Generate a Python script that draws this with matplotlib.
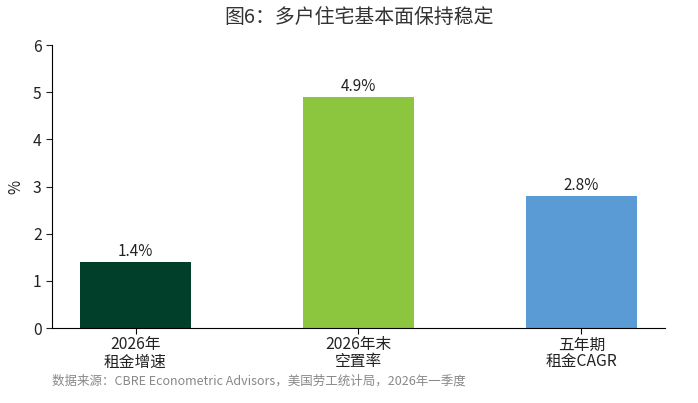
import matplotlib
matplotlib.use("Agg")
import matplotlib.pyplot as plt

plt.rcParams['font.family'] = ['Noto Sans CJK SC', 'DejaVu Sans']

categories = ["2026年\n租金增速", "2026年末\n空置率", "五年期\n租金CAGR"]
values = [1.4, 4.9, 2.8]
labels = ["1.4%", "4.9%", "2.8%"]
colors = ["#013F2B", "#8CC63F", "#5B9BD5"]
yticks = [0, 1, 2, 3, 4, 5, 6]

fig = plt.figure(figsize=(6.98, 4.03), dpi=100)
ax = fig.add_axes([0.0745, 0.186, 0.878, 0.702])

x = list(range(len(categories)))
bars = ax.bar(x, values, width=0.5, color=colors)
for xi, v, lab in zip(x, values, labels):
    ax.text(xi, v + 0.04, lab, ha='center', va='bottom', fontsize=11, color='#222222')

ax.set_xlim(-0.375, 2.375)
ax.set_ylim(0, 6)
ax.set_yticks(yticks)
ax.set_xticks(x)
ax.set_xticklabels(categories, fontsize=11.3, color='#222222', linespacing=1.0)
ax.tick_params(axis='y', labelsize=11.3, colors='#222222', length=4)
ax.tick_params(axis='x', length=4, pad=2)
for s in ['top', 'right']:
    ax.spines[s].set_visible(False)
ax.set_ylabel('%', fontsize=11, color='#222222', labelpad=6)

fig.text(0.5137, 0.957, "图6：多户住宅基本面保持稳定", ha='center', va='center',
         fontsize=14.3, color='#333333')
fig.text(0.0745, 0.053, "数据来源：CBRE Econometric Advisors，美国劳工统计局，2026年一季度",
         ha='left', va='center', fontsize=9, color='#888888')

fig.savefig("out.png", dpi=100)
